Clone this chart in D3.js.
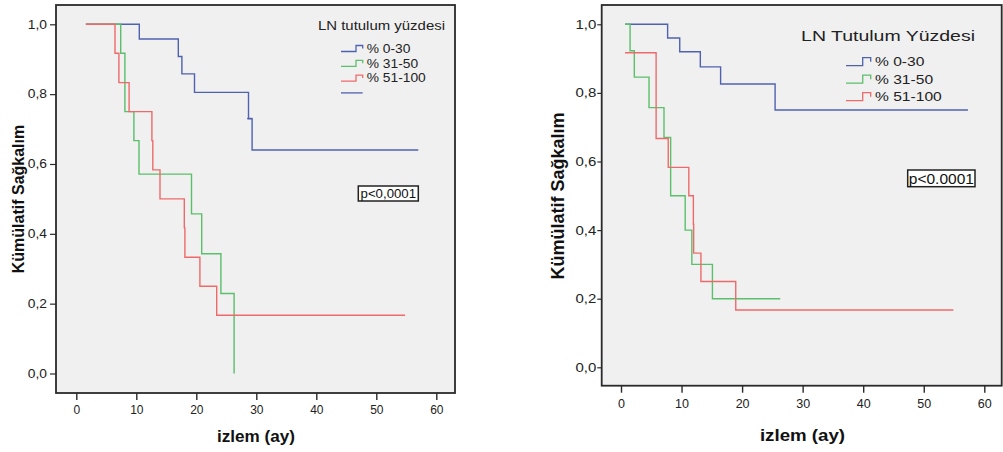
<!DOCTYPE html>
<html><head><meta charset="utf-8">
<script src="https://cdn.jsdelivr.net/npm/d3@7"></script>
<style>
body{margin:0;background:#fff}
svg{display:block}
text{font-family:"Liberation Sans",Arial,sans-serif}
</style>
</head><body>
<svg id="c" width="1003" height="452"></svg>
<script>
// ---------- data ----------
const xTicks = [0, 10, 20, 30, 40, 50, 60];
const yTicks = [0, 0.2, 0.4, 0.6, 0.8, 1.0];
const groups = ["% 0-30", "% 31-50", "% 51-100"];
const colors = ["#4f62b0", "#5bbf6b", "#ee6a6a"];
const yLabel = "Kümülatif Sağkalım";
const xLabel = "izlem (ay)";
const leftLegendTitle = "LN tutulum yüzdesi";
const rightLegendTitle = "LN Tutulum Yüzdesi";
const leftP = "p<0,0001";
const rightP = "p<0.0001";

// left panel: step times, survival after step, end of follow-up
const leftBlueT  = [1.6, 10.5, 17.0, 17.6, 19.7, 28.7, 29.3];
const leftBlueS  = [1.0, 0.958, 0.908, 0.858, 0.805, 0.730, 0.640];
const leftBlueEnd = 57.0;
const leftGreenT = [1.6, 7.4, 8.1, 9.6, 10.45, 19.2, 20.9, 24.1, 26.3];
const leftGreenS = [1.0, 0.917, 0.75, 0.667, 0.571, 0.457, 0.343, 0.229, 0.0];
const leftGreenEnd = 26.3;
const leftRedT   = [1.6, 6.45, 7.1, 8.8, 12.6, 12.75, 13.95, 18.0, 18.1, 20.6, 23.4];
const leftRedS   = [1.0, 0.917, 0.833, 0.75, 0.667, 0.583, 0.5, 0.417, 0.333, 0.25, 0.167];
const leftRedEnd = 54.8;
const leftCensorT = [28.9];
const leftCensorS = [0.730];

// right panel
const rightBlueT  = [0.66, 7.7, 9.7, 13.1, 16.45, 25.45];
const rightBlueS  = [1.0, 0.960, 0.920, 0.876, 0.826, 0.750];
const rightBlueEnd = 57.3;
const rightGreenT = [0.66, 1.5, 2.2, 4.63, 7.1, 8.2, 10.6, 11.7, 15.1];
const rightGreenS = [1.0, 0.923, 0.846, 0.757, 0.670, 0.500, 0.400, 0.300, 0.200];
const rightGreenEnd = 26.3;
const rightRedT   = [0.66, 5.8, 7.8, 11.2, 11.95, 12.0, 13.2, 18.95];
const rightRedS   = [0.917, 0.667, 0.583, 0.5, 0.417, 0.333, 0.25, 0.167];
const rightRedEnd = 54.9;

// ---------- drawing ----------
const svg = d3.select("#c");

function stretch(sel, s) {
  sel.each(function () {
    const t = d3.select(this);
    const x = +t.attr("x") || 0;
    t.attr("transform", `translate(${x},0) scale(${s},1) translate(${-x},0)`);
  });
}

function panel(cfg) {
  const g = svg.append("g");
  const x = d3.scaleLinear().domain([0, 60]).range([cfg.x0, cfg.x60]);
  const y = d3.scaleLinear().domain([0, 1]).range([cfg.y0, cfg.y1]);
  const F = cfg.frame;

  g.append("rect").attr("x", F[0]).attr("y", F[1])
    .attr("width", F[2] - F[0]).attr("height", F[3] - F[1])
    .attr("fill", "#f0f0f0");

  const line = d3.line().x(d => x(d[0])).y(d => y(d[1])).curve(d3.curveStepAfter);
  cfg.series.forEach((s, i) => {
    const pts = s.T.map((t, j) => [t, s.S[j]]);
    pts.push([s.end, s.S[s.S.length - 1]]);
    g.append("path").attr("d", line(pts)).attr("fill", "none")
      .attr("stroke", colors[i]).attr("stroke-width", 1.4);
  });
  (cfg.censor || []).forEach(c => {
    g.append("line").attr("x1", x(c[0]) - 2.5).attr("x2", x(c[0]) + 2.5)
      .attr("y1", y(c[1])).attr("y2", y(c[1]))
      .attr("stroke", colors[0]).attr("stroke-width", 1.6);
  });

  g.append("rect").attr("x", F[0]).attr("y", F[1])
    .attr("width", F[2] - F[0]).attr("height", F[3] - F[1])
    .attr("fill", "none").attr("stroke", "#2a2a2a").attr("stroke-width", 1.8);

  // axes
  const ya = g.append("g").attr("transform", `translate(${F[0]},0)`)
    .call(d3.axisLeft(y).tickValues(yTicks).tickSize(cfg.yTick).tickPadding(cfg.yPad)
      .tickFormat(d => d3.format(".1f")(d).replace(".", ",")));
  ya.select(".domain").remove();
  ya.selectAll("line").attr("stroke", "#2a2a2a").attr("stroke-width", 1.2);
  ya.selectAll("text").attr("font-size", cfg.tickFs).attr("fill", "#222")
    .attr("font-family", "Liberation Sans, Arial, sans-serif").call(stretch, cfg.yStretch);

  const xa = g.append("g").attr("transform", `translate(0,${F[3]})`)
    .call(d3.axisBottom(x).tickValues(xTicks).tickSize(7).tickPadding(cfg.xPad));
  xa.select(".domain").remove();
  xa.selectAll("line").attr("stroke", "#2a2a2a").attr("stroke-width", 1.4);
  xa.selectAll("text").attr("font-size", cfg.tickFs).attr("fill", "#222")
    .attr("font-family", "Liberation Sans, Arial, sans-serif").call(stretch, cfg.xStretch);

  // axis titles
  g.append("text").attr("transform", `translate(${cfg.yTitle[0]},${cfg.yTitle[1]}) rotate(-90)`)
    .attr("text-anchor", "middle").attr("dy", "0.35em")
    .attr("font-weight", "bold").attr("font-size", cfg.yTitleFs).attr("fill", "#111")
    .text(yLabel);
  g.append("text").attr("x", cfg.xTitle[0]).attr("y", cfg.xTitle[1])
    .attr("text-anchor", "middle").attr("font-weight", "bold")
    .attr("font-size", cfg.xTitleFs).attr("fill", "#111").text(xLabel)
    .call(stretch, cfg.xTitleStretch);

  // legend
  const L = cfg.legend;
  g.append("text").attr("x", L.titleX).attr("y", L.titleY).attr("text-anchor", "end")
    .attr("font-size", L.titleFs).attr("fill", "#222").text(cfg.legendTitle)
    .call(stretch, L.stretch);
  groups.forEach((name, i) => {
    const ry = L.row0 + i * L.step;
    g.append("path")
      .attr("d", `M${L.s0},${ry + L.h}H${L.s1}V${ry - L.h}H${L.s2}V${ry}`)
      .attr("fill", "none").attr("stroke", colors[i]).attr("stroke-width", 1.3);
    g.append("text").attr("x", L.textX).attr("y", ry + L.itemFs * 0.36)
      .attr("font-size", L.itemFs).attr("fill", "#222").text(name)
      .call(stretch, L.stretch);
  });
  if (L.extra) {
    const ry = L.row0 + 3 * L.step;
    g.append("line").attr("x1", L.s0).attr("x2", L.s2).attr("y1", ry).attr("y2", ry)
      .attr("stroke", colors[0]).attr("stroke-width", 1.3);
  }

  // p-value box
  const P = cfg.pbox;
  g.append("rect").attr("x", P[0]).attr("y", P[1]).attr("width", P[2]).attr("height", P[3])
    .attr("fill", "#fff").attr("stroke", "#222").attr("stroke-width", 1.5);
  g.append("text").attr("x", P[0] + P[2] / 2).attr("y", P[1] + P[3] / 2 + P[4] * 0.36)
    .attr("text-anchor", "middle").attr("font-size", P[4]).attr("fill", "#111")
    .text(cfg.pText).call(stretch, P[5]);
}

panel({
  frame: [56, 5, 455, 393],
  x0: 76.3, x60: 436.3, y0: 373.5, y1: 24.3,
  yTick: 6, yPad: 3, xPad: 5.8, tickFs: 12, yStretch: 1.15, xStretch: 1.0,
  yTitle: [18.5, 199], yTitleFs: 16,
  xTitle: [256, 441.7], xTitleFs: 16, xTitleStretch: 1.07,
  legendTitle: leftLegendTitle,
  legend: { titleX: 445, titleY: 30, titleFs: 13, itemFs: 12, stretch: 1.15,
            row0: 48.5, step: 14.8, s0: 341, s1: 356, s2: 362.7, h: 3, textX: 366.7, extra: true },
  pText: leftP, pbox: [358.3, 186, 60, 15, 12, 1.1],
  series: [
    { T: leftBlueT, S: leftBlueS, end: leftBlueEnd },
    { T: leftGreenT, S: leftGreenS, end: leftGreenEnd },
    { T: leftRedT, S: leftRedS, end: leftRedEnd }
  ],
  censor: leftCensorT.map((t, i) => [t, leftCensorS[i]])
});

panel({
  frame: [601.7, 5, 1001.7, 385.7],
  x0: 621, x60: 984.3, y0: 367.3, y1: 24.3,
  yTick: 4.4, yPad: 1, xPad: 6.4, tickFs: 12.5, yStretch: 1.2, xStretch: 1.0,
  yTitle: [557.5, 196], yTitleFs: 18,
  xTitle: [802.5, 441], xTitleFs: 17, xTitleStretch: 1.1,
  legendTitle: rightLegendTitle,
  legend: { titleX: 975, titleY: 40.7, titleFs: 15, itemFs: 12, stretch: 1.3,
            row0: 61.7, step: 17.5, s0: 846, s1: 862.7, s2: 870.7, h: 4, textX: 875, extra: false },
  pText: rightP, pbox: [907.7, 170, 67.3, 16.7, 14.5, 1.07],
  series: [
    { T: rightBlueT, S: rightBlueS, end: rightBlueEnd },
    { T: rightGreenT, S: rightGreenS, end: rightGreenEnd },
    { T: rightRedT, S: rightRedS, end: rightRedEnd }
  ]
});
</script>
</body></html>
